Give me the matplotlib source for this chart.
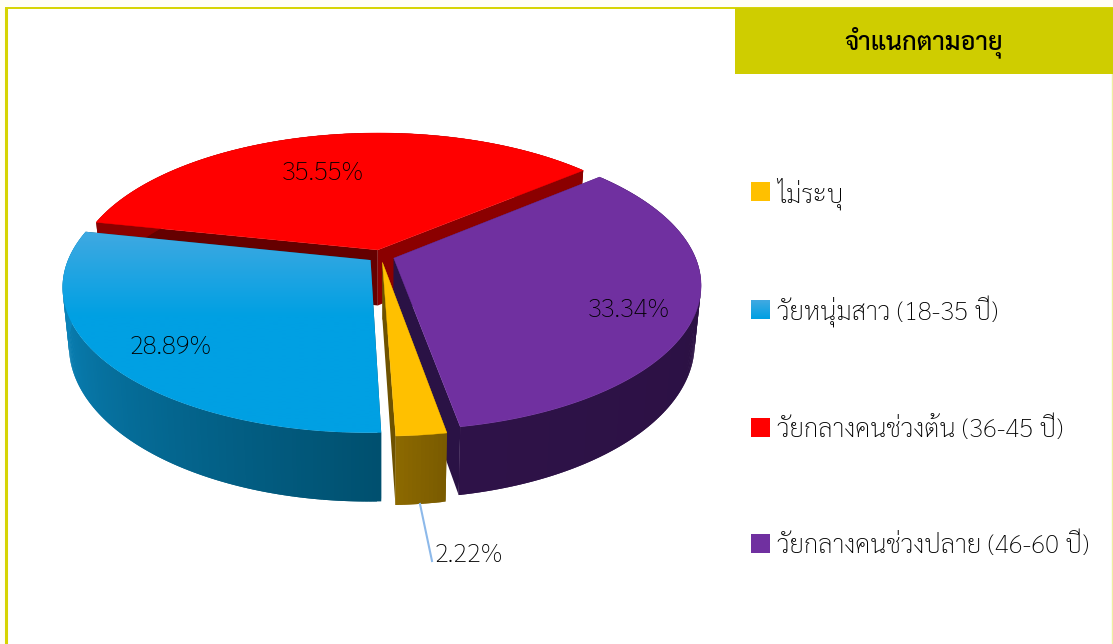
import numpy as np
import matplotlib
matplotlib.use('Agg')
import matplotlib.pyplot as plt
from matplotlib.patches import Rectangle, Polygon
from matplotlib.colors import to_rgb

# ---- data ----
title = 'จำแนกตามอายุ'
categories = ['ไม่ระบุ', 'วัยหนุ่มสาว (18-35 ปี)', 'วัยกลางคนช่วงต้น (36-45 ปี)', 'วัยกลางคนช่วงปลาย (46-60 ปี)']
values = [2.22, 28.89, 35.55, 33.34]
value_labels = ['2.22%', '28.89%', '35.55%', '33.34%']

# ---- style ----
top_colors = ['#FFC000', '#00A0E3', '#FF0000', '#7030A0']
wall_near = ['#8C6900', '#0C90CC', '#8B0000', '#2E1248']
wall_far = ['#7A5B00', '#00506F', '#8B0000', '#2A1040']
cut_start = ['#7A5B00', '#00506F', '#650000', '#2A1245']
cut_end = ['#6E5200', '#00506F', '#8B0000', '#2A1245']
draw_order = [2, 3, 0, 1]
first_angle = 170.0
CX, CY = 381.0, 256.0
R, RA, K, H, SHRINK, EXPL = 301.0, 140.0, 0.18, 56.0, 0.02, 0.045
FRAME = '#CFCD00'

plt.rcParams['font.family'] = ['Sarabun', 'DejaVu Sans']
fig = plt.figure(figsize=(11.13, 6.44), dpi=100, facecolor='#FFFEF6')
ax = fig.add_axes([0, 0, 1, 1])
ax.set_xlim(0, 1113)
ax.set_ylim(644, 0)
ax.axis('off')

ax.add_patch(Rectangle((6, 8), 1106, 640, fc='white', ec='none', zorder=0))
ax.plot([6, 6], [644, 8], color='#D6D400', lw=2.2, zorder=1, solid_capstyle='butt')
ax.plot([5, 1113], [8, 8], color='#D6D400', lw=1.4, zorder=1, solid_capstyle='butt')
ax.plot([1112, 1112], [74, 644], color='#EFEFA0', lw=1.0, zorder=1)


def project(u, v, z, ou, ov):
    u, v = np.asarray(u) + ou, np.asarray(v) + ov
    w = 1 + K * v
    s = 1 - SHRINK * z
    return CX + R * s * u / w, CY - RA * v / w + H * z / w


def mix(a, b, t):
    a, b = np.array(to_rgb(a)), np.array(to_rgb(b))
    return tuple(a + (b - a) * t)


fracs = np.array(values) / sum(values) * 360.0
starts = first_angle + np.concatenate([[0], np.cumsum(fracs)[:-1]])
z = 10
for i in draw_order:
    a0, a1 = starts[i], starts[i] + fracs[i]
    mid = np.radians((a0 + a1) / 2)
    ou, ov = EXPL * np.sin(mid), EXPL * np.cos(mid)
    th = np.radians(np.linspace(a0, a1, max(int(fracs[i] * 1.5), 12) + 1))
    us, vs = np.sin(th), np.cos(th)

    # radial cut walls
    for (ue, ve, col) in ((us[0], vs[0], cut_start[i]), (us[-1], vs[-1], cut_end[i])):
        x0, y0 = project(0, 0, 0, ou, ov)
        x1, y1 = project(ue, ve, 0, ou, ov)
        x2, y2 = project(ue, ve, 1, ou, ov)
        x3, y3 = project(0, 0, 1, ou, ov)
        ax.add_patch(Polygon([(x0, y0), (x1, y1), (x2, y2), (x3, y3)], fc=col, ec='none', zorder=z))
        z += 1

    # outer wall with angle-wise shading; each quad overlaps the next to avoid seams
    xt, yt = project(us, vs, 0, ou, ov)
    xb, yb = project(us, vs, 1, ou, ov)
    n = len(us) - 1
    for j in range(n):
        t = j / max(n - 1, 1)
        c = mix(wall_far[i], wall_near[i], t)
        k = min(j + 2, n)
        ax.add_patch(Polygon([(xt[j], yt[j]), (xt[k], yt[k]), (xb[k], yb[k]), (xb[j], yb[j])],
                             fc=c, ec='none', zorder=z))
        z += 1

    # top surface
    ax0, ay0 = project(0, 0, 0, ou, ov)
    pts = [(ax0, ay0)] + list(zip(xt, yt))
    if i == 1:
        poly = Polygon(pts, fc='none', ec='none', zorder=z)
        ax.add_patch(poly)
        ymin, ymax = min(p[1] for p in pts), max(p[1] for p in pts)
        g = np.array([mix('#40A9E1', top_colors[1], min(t / 0.42, 1)) for t in np.linspace(0, 1, 200)])[:, None, :]
        im = ax.imshow(g, extent=(0, 1113, ymax, ymin), aspect='auto', zorder=z, interpolation='bilinear')
        im.set_clip_path(poly)
        ax.set_xlim(0, 1113)
        ax.set_ylim(644, 0)
    else:
        ax.add_patch(Polygon(pts, fc=top_colors[i], ec=top_colors[i], lw=0.3, zorder=z))
    z += 1

# data labels
ax.plot([420, 432], [504, 561], color='#8DB9EA', lw=1.5, zorder=z)
lab_pos = [(435, 555), (171, 347), (323, 173), (629, 310)]
lab_ha = ['left', 'center', 'center', 'center']
for s, (x, y), ha in zip(value_labels, lab_pos, lab_ha):
    ax.text(x, y, s, fontsize=18.6, fontweight='light', color='black', ha=ha, va='center', zorder=z + 1)

# title band
ax.add_patch(Rectangle((735, 8), 378, 66, fc=FRAME, ec='none', zorder=z))
ax.text(924, 42, title, fontsize=18.3, fontweight='medium', color='black', ha='center', va='center', zorder=z + 1)

# legend
leg_y = [191, 309, 427, 543]
for c, s, y in zip(top_colors, categories, leg_y):
    if c == top_colors[1]:
        g = np.array([mix('#40A9E1', c, t) for t in np.linspace(0, 1, 20)])[:, None, :]
        ax.imshow(g, extent=(751, 770, y + 9.5, y - 9.5), aspect='auto', zorder=z)
        ax.set_xlim(0, 1113)
        ax.set_ylim(644, 0)
    else:
        ax.add_patch(Rectangle((751, y - 9.5), 19, 19, fc=c, ec='none', zorder=z))
    ax.text(777, y + 3, s, fontsize=18.6, fontweight='light', color='black', ha='left', va='center', zorder=z + 1)

fig.savefig('out.png', dpi=100, facecolor=fig.get_facecolor())
